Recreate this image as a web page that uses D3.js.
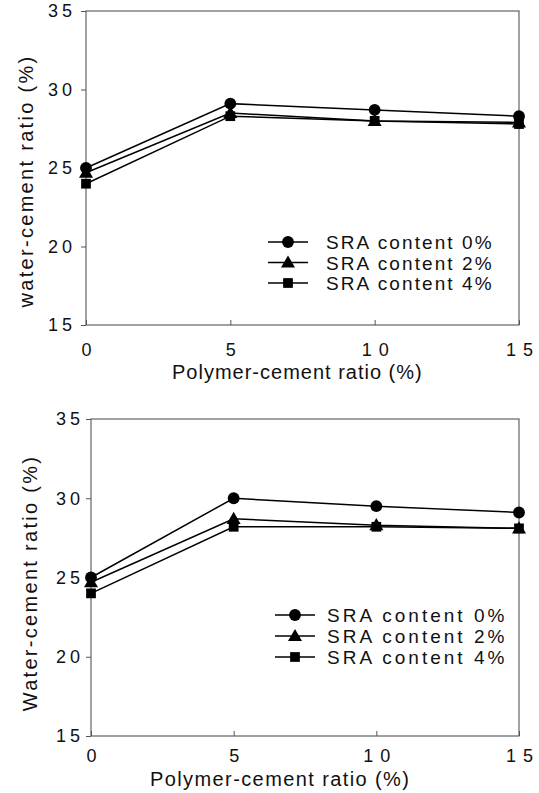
<!DOCTYPE html>
<html>
<head>
<meta charset="utf-8">
<script src="https://cdn.jsdelivr.net/npm/d3@7"></script>
<style>
  body { margin: 0; background: #fff; }
  text { font-family: "Liberation Sans", Arial, sans-serif; fill: #111; }
</style>
</head>
<body>
<svg id="chart" width="539" height="793"></svg>
<script>
const polymerRatio = [0, 5, 10, 15];
const legendLabels = ['SRA content 0%', 'SRA content 2%', 'SRA content 4%'];
const markerTypes = ['circle', 'triangle', 'square'];
const yTicks = [15, 20, 25, 30, 35];
const xTicks = [0, 5, 10, 15];

// upper graph
const topSRA0 = [25.0, 29.1, 28.7, 28.3];
const topSRA2 = [24.7, 28.5, 28.0, 27.9];
const topSRA4 = [24.0, 28.3, 28.0, 27.8];

// lower graph
const bottomSRA0 = [25.0, 30.0, 29.5, 29.1];
const bottomSRA2 = [24.7, 28.7, 28.3, 28.1];
const bottomSRA4 = [24.0, 28.2, 28.2, 28.1];

const svg = d3.select('#chart');
const FONT = '"Liberation Sans", Arial, sans-serif';

function drawPanel(o, seriesList) {
    const g = svg.append('g');
    const x = d3.scaleLinear().domain([0, 15]).range([o.left, o.right]);
    const y = d3.scaleLinear().domain([15, 35]).range([o.bottom, o.top]);

    // frame
    g.append('rect').attr('x', o.left).attr('y', o.top)
        .attr('width', o.right - o.left).attr('height', o.bottom - o.top)
        .attr('fill', 'none').attr('stroke', '#555').attr('stroke-width', 1.1);

    const yAxis = g.append('g').attr('transform', `translate(${o.left},0)`)
        .call(d3.axisLeft(y).tickValues(yTicks).tickSize(5).tickPadding(o.yPad));
    yAxis.select('.domain').remove();
    yAxis.selectAll('line').attr('stroke', '#555');
    yAxis.selectAll('text').attr('font-size', 18).attr('letter-spacing', 4)
        .style('font-family', FONT).attr('fill', '#111');

    const xAxis = g.append('g').attr('transform', `translate(0,${o.bottom})`)
        .call(d3.axisBottom(x).tickValues(xTicks).tickSize(-5).tickPadding(0));
    xAxis.select('.domain').remove();
    xAxis.selectAll('line').attr('stroke', '#555');
    xAxis.selectAll('text').attr('font-size', 18).attr('letter-spacing', o.xls)
        .attr('dx', o.xls / 2).attr('dy', null).attr('y', o.xLabelY)
        .style('font-family', FONT).attr('fill', '#111');

    g.append('text').attr('x', o.xTitleX).attr('y', o.bottom + o.xTitleDy)
        .attr('text-anchor', 'start').attr('font-size', 20).attr('letter-spacing', o.xTitleLs)
        .text('Polymer-cement ratio (%)');

    g.append('text')
        .attr('transform', `translate(${o.titleX},${o.titleY}) rotate(-90)`)
        .attr('text-anchor', 'middle').attr('font-size', 20).attr('letter-spacing', 2.3)
        .text(o.yTitle);

    const line = d3.line().x((d, i) => x(polymerRatio[i])).y(d => y(d));

    seriesList.forEach(vals => {
        g.append('path').datum(vals).attr('d', line)
            .attr('fill', 'none').attr('stroke', '#000').attr('stroke-width', 1.5);
    });
    seriesList.forEach((vals, k) => {
        vals.forEach((v, i) => drawMarker(g, markerTypes[k], x(polymerRatio[i]), y(v)));
    });

    // legend
    const lg = g.append('g');
    legendLabels.forEach((lab, k) => {
        const ly = o.legendY + k * o.legendStep;
        lg.append('line').attr('x1', o.legendX).attr('x2', o.legendX + 40)
            .attr('y1', ly).attr('y2', ly).attr('stroke', '#000').attr('stroke-width', 1.5);
        drawMarker(lg, markerTypes[k], o.legendX + 20, ly);
        lg.append('text').attr('x', o.legendTextX).attr('y', ly + 7)
            .attr('font-size', 19).attr('letter-spacing', o.legendLs).text(lab);
    });
}

function drawMarker(g, type, cx, cy) {
    const sym = type === 'circle' ? d3.symbolCircle : type === 'triangle' ? d3.symbolTriangle : d3.symbolSquare;
    const size = type === 'circle' ? 110 : type === 'triangle' ? 85 : 95;
    g.append('path').attr('d', d3.symbol().type(sym).size(size)())
        .attr('transform', `translate(${cx},${cy + (type === 'triangle' ? 1 : 0)})`)
        .attr('fill', '#000');
}

drawPanel({ left: 86, right: 519, top: 11, bottom: 325, yPad: 5,
    xLabelY: 31, xls: 7, xTitleX: 172, xTitleDy: 54, xTitleLs: 1.0,
    titleX: 33, titleY: 181, yTitle: 'water-cement ratio (%)',
    legendX: 268, legendTextX: 326, legendY: 242, legendStep: 20.5, legendLs: 2.1 },
    [topSRA0, topSRA2, topSRA4]);

drawPanel({ left: 91, right: 519, top: 419, bottom: 736, yPad: 2,
    xLabelY: 26, xls: 7, xTitleX: 150, xTitleDy: 50, xTitleLs: 1.4,
    titleX: 37, titleY: 583, yTitle: 'Water-cement ratio (%)',
    legendX: 275, legendTextX: 327, legendY: 615, legendStep: 21, legendLs: 3.0 },
    [bottomSRA0, bottomSRA2, bottomSRA4]);
</script>
</body>
</html>
